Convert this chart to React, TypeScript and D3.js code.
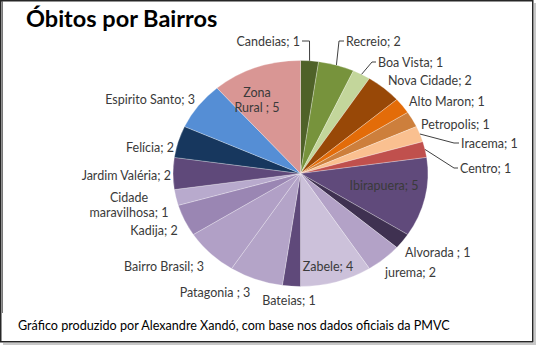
import React from "react";
import * as d3 from "d3";

const bairros = [
  "Candeias", "Recreio", "Boa Vista", "Nova Cidade", "Alto Maron", "Petropolis",
  "Iracema", "Centro", "Ibirapuera", "Alvorada", "jurema", "Zabele", "Bateias",
  "Patagonia", "Bairro Brasil", "Kadija", "Cidade maravilhosa", "Jardim Valéria",
  "Felícia", "Espirito Santo", "Zona Rural",
];
const obitos = [1, 2, 1, 2, 1, 1, 1, 1, 5, 1, 2, 4, 1, 3, 3, 2, 1, 2, 2, 3, 5];
const cores = [
  "#4f6228", "#77933c", "#c3d69b", "#984807", "#e36c09", "#cd7f3c",
  "#fac090", "#c0504d", "#604a7b", "#3f3151", "#b3a2c7", "#ccc1da", "#5f497a",
  "#b4a4c8", "#b1a0c6", "#9a86b3", "#b8aacd", "#5f497a", "#17375e", "#558ed5", "#d99694",
];
// label text lines (Excel style "name; value")
const rotulos: string[][] = [
  ["Candeias; 1"], ["Recreio; 2"], ["Boa Vista; 1"], ["Nova Cidade; 2"], ["Alto Maron; 1"],
  ["Petropolis; 1"], ["Iracema; 1"], ["Centro; 1"], ["Ibirapuera; 5"], ["Alvorada ; 1"],
  ["jurema; 2"], ["Zabele; 4"], ["Bateias; 1"], ["Patagonia ; 3"], ["Bairro Brasil; 3"],
  ["Kadija; 2"], ["Cidade", "maravilhosa; 1"], ["Jardim Valéria; 2"], ["Felícia; 2"],
  ["Espirito Santo; 3"], ["Zona", "Rural ; 5"],
];

const titulo = "Óbitos por Bairros";
const fonte = "Gráfico produzido por Alexandre Xandó, com base nos dados oficiais da PMVC";

// label layout: [x, y(center of first line), anchor, leader elbow x or null]
const layout: [number, number, "start" | "middle" | "end", number | null][] = [
  [300, 41, "end", 309.5],
  [346, 41, "start", 339],
  [378, 62, "start", 372],
  [388, 80, "start", null],
  [409, 101, "start", null],
  [421, 124, "start", null],
  [461, 143, "start", 454],
  [460, 168, "start", 454],
  [384, 185, "middle", null],
  [405, 252, "start", null],
  [385, 272, "start", null],
  [328, 266, "middle", null],
  [289, 300, "middle", null],
  [215, 292, "middle", null],
  [164, 266, "middle", null],
  [154, 230, "middle", null],
  [129, 197, "middle", null],
  [171, 175, "end", null],
  [174, 147, "end", null],
  [195, 99, "end", null],
  [257, 92, "middle", null],
];

const W = 536, H = 347;
const cx = 300.5, cy = 173.5, R = 113, sx = 1.128;
const FONT = "Lato, 'Open Sans', sans-serif";

export default function App() {
  const pie = d3.pie<number>().sort(null).value((d) => d);
  const arcs = pie(obitos);
  const arc = d3.arc<d3.PieArcDatum<number>>().innerRadius(0).outerRadius(R);

  const edgePoint = (a: d3.PieArcDatum<number>) => {
    const m = (a.startAngle + a.endAngle) / 2;
    return [cx + R * Math.sin(m) * sx, cy - R * Math.cos(m)];
  };

  return (
    <svg width={W} height={H} style={{ position: "absolute", left: 0, top: 0, background: "#fff" }}>
      <rect x={0} y={0} width={W} height={H} fill="#fff" />
      {/* shadow */}
      <rect x={534} y={3} width={2} height={341} fill="#c8c8c8" />
      <rect x={3} y={343} width={533} height={2} fill="#c8c8c8" />
      <rect x={0.75} y={0.75} width={532} height={341} fill="none" stroke="#262626" strokeWidth={1.5} />
      <line x1={2.5} y1={1} x2={2.5} y2={313} stroke="#555" strokeWidth={0.8} />

      <text x={26} y={27} fontFamily={FONT} fontWeight="bold" fontSize={23.5} fill="#000">{titulo}</text>

      <g transform={`translate(${cx},${cy}) scale(${sx},1)`}>
        {arcs.map((a, i) => (
          <path key={i} d={arc(a) || ""} fill={cores[i]} stroke="#ffffff" strokeOpacity={0.45}
            strokeWidth={0.6} vectorEffect="non-scaling-stroke" />
        ))}
      </g>

      {arcs.map((a, i) => {
        const [x, y, anchor, elbow] = layout[i];
        if (elbow === null) return null;
        const [px, py] = edgePoint(a);
        const tx = anchor === "end" ? x + 2 : x - 2;
        return (
          <polyline key={"l" + i} points={`${tx},${y} ${elbow},${y} ${px},${py}`}
            fill="none" stroke="#404040" strokeWidth={1} />
        );
      })}

      {rotulos.map((lines, i) => {
        const [x, y, anchor] = layout[i];
        return (
          <text key={"t" + i} x={x} y={y + 4.5} textAnchor={anchor} fontFamily={FONT}
            fontSize={12.5} fill="#3a3a3a">
            {lines.map((ln, j) => (
              <tspan key={j} x={x} dy={j === 0 ? 0 : 15}>{ln}</tspan>
            ))}
          </text>
        );
      })}

      <text x={18} y={329.5} fontFamily={FONT} fontSize={12.6} fill="#000">{fonte}</text>
    </svg>
  );
}
